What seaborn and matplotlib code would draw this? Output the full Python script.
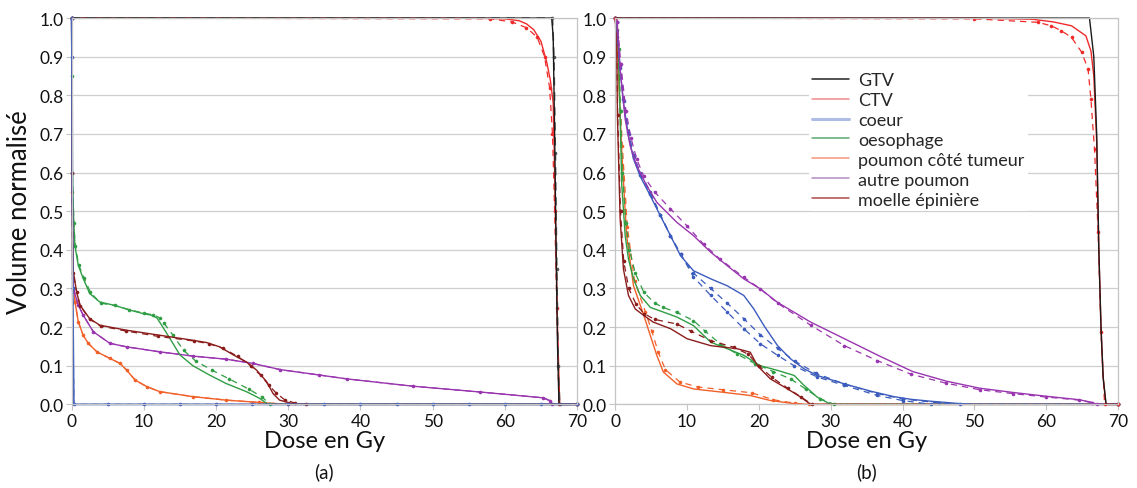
import matplotlib
matplotlib.use("Agg")
import matplotlib.pyplot as plt
from matplotlib.lines import Line2D
import seaborn as sns

# ---- (a) courbes HDV ----
a_gtv_dose = [0, 66.5, 66.7, 66.9, 67.1, 67.3, 67.5, 70]
a_gtv_vol = [1.0, 1.0, 0.95, 0.7, 0.4, 0.15, 0.0, 0.0]
a_gtv2_dose = [0, 66.6, 66.8, 67.0, 67.2, 67.4, 67.6, 70]
a_gtv2_vol = [1.0, 1.0, 0.9, 0.65, 0.35, 0.1, 0.0, 0.0]

a_ctv_dose = [0, 55, 60, 62, 63, 64, 65, 65.8, 66.3, 66.7, 66.9, 67.1, 67.3, 67.6, 70]
a_ctv_vol = [1.0, 1.0, 0.998, 0.993, 0.985, 0.97, 0.94, 0.886, 0.84, 0.78, 0.6, 0.4, 0.2, 0.0, 0.0]
a_ctv2_dose = [0, 58, 61, 63, 64.5, 65.5, 66.2, 66.6, 66.9, 67.2, 67.5, 70]
a_ctv2_vol = [1.0, 0.998, 0.99, 0.975, 0.95, 0.9, 0.82, 0.7, 0.5, 0.25, 0.0, 0.0]

a_coeur_dose = [0, 0.05, 0.15, 0.3, 5, 10, 15, 20, 25, 30, 35, 40, 45, 50, 55, 60, 65, 70]
a_coeur_vol = [1.0, 0.9, 0.3, 0.0, 0, 0, 0, 0, 0, 0, 0, 0, 0, 0, 0, 0, 0, 0]

a_oeso_dose = [0, 0.05, 0.1, 0.3, 0.46, 0.92, 1.6, 2.5, 3.9, 5.8, 8.1, 9.9, 11.0, 11.8, 12.4,
               13.6, 15, 16.8, 19.1, 21.4, 24.2, 26, 27.2, 70]
a_oeso_vol = [1.0, 0.85, 0.6, 0.47, 0.41, 0.36, 0.326, 0.287, 0.265, 0.257, 0.244, 0.235,
              0.231, 0.224, 0.207, 0.171, 0.128, 0.10, 0.076, 0.054, 0.033, 0.016, 0.0, 0.0]
a_oeso2_dose = [0, 0.05, 0.1, 0.3, 0.5, 1.0, 1.7, 2.6, 4.0, 6.0, 8.0, 10.0, 11.3, 12.2, 12.8,
                14.0, 15.5, 17.2, 19.5, 21.8, 24.5, 26.3, 27.5, 70]
a_oeso2_vol = [1.0, 0.85, 0.6, 0.47, 0.41, 0.36, 0.328, 0.29, 0.262, 0.256, 0.245, 0.236,
               0.232, 0.224, 0.21, 0.18, 0.14, 0.112, 0.088, 0.066, 0.04, 0.02, 0.0, 0.0]

a_moelle_dose = [0, 0.05, 0.23, 0.69, 1.15, 2.5, 3.9, 7.6, 12.2, 16.8, 18.7, 20.5, 22.4,
                 24.2, 25.6, 27.0, 27.9, 28.8, 30.6, 32, 70]
a_moelle_vol = [1.0, 0.6, 0.343, 0.291, 0.257, 0.222, 0.205, 0.192, 0.179, 0.166, 0.16,
                0.149, 0.128, 0.11, 0.089, 0.059, 0.028, 0.011, 0.002, 0.0, 0.0]
a_moelle2_dose = [0, 0.05, 0.25, 0.7, 1.2, 2.5, 4, 7.5, 12, 17, 19, 21, 23, 24.8, 26.2,
                  27.3, 28.3, 29.5, 31, 32.5, 70]
a_moelle2_vol = [1.0, 0.6, 0.34, 0.29, 0.255, 0.22, 0.203, 0.19, 0.176, 0.164, 0.157, 0.145,
                 0.124, 0.1, 0.075, 0.05, 0.03, 0.012, 0.003, 0.0, 0.0]

a_autre_dose = [0, 0.05, 0.23, 0.92, 1.6, 3.0, 5.3, 7.6, 12.2, 16.8, 21.4, 25.1, 28.9, 34.3,
                38.1, 47.3, 56.6, 65.3, 66.2, 66.6, 70]
a_autre_vol = [1.0, 0.6, 0.30, 0.257, 0.231, 0.188, 0.158, 0.149, 0.136, 0.125, 0.117, 0.106,
               0.09, 0.076, 0.066, 0.047, 0.032, 0.017, 0.01, 0.0, 0.0]

a_poumon_dose = [0, 0.05, 0.14, 0.46, 0.92, 1.6, 2.3, 3.5, 5.3, 6.7, 7.6, 8.8, 10.4, 12.2,
                 16.8, 21.4, 26, 30, 70]
a_poumon_vol = [1.0, 0.55, 0.326, 0.266, 0.214, 0.179, 0.158, 0.136, 0.119, 0.106, 0.089,
                0.063, 0.046, 0.033, 0.02, 0.011, 0.005, 0.0, 0.0]

# ---- (b) ----
b_gtv_dose = [0, 66.0, 66.6, 67.0, 67.3, 67.6, 67.9, 68.3, 70]
b_gtv_vol = [1.0, 1.0, 0.9, 0.7, 0.4, 0.2, 0.07, 0.0, 0.0]

b_ctv_dose = [0, 50, 58, 61, 63.5, 65.5, 66.2, 66.6, 67.0, 67.3, 67.6, 67.9, 68.3, 70]
b_ctv_vol = [1.0, 1.0, 0.997, 0.99, 0.98, 0.954, 0.915, 0.85, 0.68, 0.4, 0.2, 0.07, 0.0, 0.0]
b_ctv2_dose = [0, 50, 58.8, 60.7, 62.1, 63.5, 64.9, 65.8, 66.2, 66.7, 67.2, 67.6, 68.1, 70]
b_ctv2_vol = [1.0, 0.998, 0.989, 0.98, 0.967, 0.95, 0.912, 0.868, 0.79, 0.66, 0.446, 0.187, 0.0, 0.0]

b_coeur_dose = [0, 0.23, 0.7, 1.16, 1.86, 2.56, 3.5, 4.9, 6.3, 7.7, 9.1, 10.9, 13.3, 15.6,
                17.9, 19.3, 20.7, 22.6, 24.4, 26.3, 28.1, 31.9, 35.6, 38.8, 41.2, 44, 48, 50, 70]
b_coeur_vol = [1.0, 0.99, 0.867, 0.78, 0.695, 0.635, 0.59, 0.54, 0.488, 0.437, 0.385, 0.346,
               0.325, 0.307, 0.282, 0.247, 0.204, 0.152, 0.118, 0.092, 0.075, 0.053, 0.034,
               0.02, 0.013, 0.008, 0.002, 0.0, 0.0]
b_coeur2_dose = [0, 0.23, 0.7, 1.16, 1.86, 2.56, 3.5, 4.9, 6.3, 7.7, 9.1, 10.9, 13.3, 15.6,
                 17.9, 20.2, 22.6, 24.9, 28.1, 31.9, 36.5, 40, 44, 70]
b_coeur2_vol = [1.0, 0.99, 0.875, 0.79, 0.705, 0.645, 0.6, 0.55, 0.49, 0.437, 0.39, 0.33,
                0.282, 0.239, 0.196, 0.157, 0.127, 0.10, 0.071, 0.049, 0.023, 0.01, 0.0, 0.0]
b_coeur3_dose = [0, 0.23, 0.7, 1.2, 1.9, 2.6, 3.5, 4.9, 6.3, 7.7, 9.1, 10.9, 13.3, 15.6,
                 17.9, 20.2, 22.6, 25, 28, 32, 36.5, 40, 45, 48, 70]
b_coeur3_vol = [1.0, 0.99, 0.87, 0.785, 0.7, 0.64, 0.595, 0.545, 0.49, 0.437, 0.388, 0.34,
                0.30, 0.262, 0.222, 0.18, 0.145, 0.112, 0.08, 0.052, 0.028, 0.014, 0.004, 0.0, 0.0]

b_autre_dose = [0, 0.23, 0.7, 1.4, 2.1, 3.0, 4.4, 5.8, 8.6, 10.9, 13.3, 15.6, 17.9, 20.2,
                22.6, 27.2, 31.9, 36.8, 41.4, 46.1, 50.7, 55.3, 60, 64.6, 66.4, 67, 70]
b_autre_vol = [1.0, 1.0, 0.867, 0.738, 0.669, 0.618, 0.566, 0.523, 0.471, 0.437, 0.394,
               0.359, 0.325, 0.299, 0.264, 0.213, 0.17, 0.125, 0.085, 0.06, 0.042, 0.031,
               0.021, 0.012, 0.005, 0.0, 0.0]
b_autre2_dose = [0, 0.3, 0.8, 1.5, 2.2, 3.0, 4.0, 5.5, 7.7, 10, 12.3, 14.6, 17.9, 20.2, 22.6,
                 27.2, 31.9, 36.5, 41.2, 46, 50.7, 55.3, 60, 64.6, 66.4, 67, 70]
b_autre2_vol = [1.0, 0.99, 0.88, 0.76, 0.69, 0.635, 0.59, 0.55, 0.506, 0.462, 0.415, 0.376,
                0.329, 0.299, 0.262, 0.205, 0.152, 0.113, 0.078, 0.055, 0.038, 0.028, 0.019,
                0.011, 0.004, 0.0, 0.0]

b_oeso_dose = [0, 0.3, 0.47, 0.7, 0.93, 1.4, 1.86, 2.56, 3.5, 4.9, 6.7, 8.6, 10.9, 13.3,
               15.6, 17.9, 20.2, 22.6, 24.9, 26.3, 28.1, 30, 70]
b_oeso_vol = [1.0, 0.97, 0.91, 0.74, 0.566, 0.437, 0.376, 0.325, 0.282, 0.251, 0.239, 0.226,
              0.204, 0.161, 0.144, 0.127, 0.10, 0.088, 0.075, 0.049, 0.019, 0.0, 0.0]
b_oeso2_dose = [0, 0.3, 0.5, 0.75, 1.0, 1.5, 2.0, 2.8, 4.0, 5.5, 6.7, 8.6, 10.9, 12.5, 14.6,
                17, 19.5, 22, 24.5, 26.5, 28.5, 30.5, 70]
b_oeso2_vol = [1.0, 0.97, 0.92, 0.76, 0.6, 0.47, 0.4, 0.34, 0.29, 0.262, 0.251, 0.238, 0.217,
               0.19, 0.157, 0.13, 0.105, 0.085, 0.065, 0.04, 0.015, 0.0, 0.0]

b_moelle_dose = [0, 0.2, 0.33, 0.7, 1.16, 1.86, 2.8, 4.0, 5.3, 7.7, 10, 13.3, 17, 18.8, 19.8,
                 21.6, 24, 25.8, 27.2, 70]
b_moelle_vol = [1.0, 0.95, 0.74, 0.48, 0.35, 0.282, 0.247, 0.23, 0.213, 0.196, 0.17, 0.152,
                0.144, 0.135, 0.10, 0.066, 0.04, 0.019, 0.0, 0.0]
b_moelle2_dose = [0, 0.2, 0.35, 0.75, 1.2, 1.9, 2.9, 4.0, 5.5, 8.6, 10.5, 13.3, 16.5, 18.5,
                  20, 21.8, 24, 25.8, 27.4, 70]
b_moelle2_vol = [1.0, 0.95, 0.75, 0.5, 0.37, 0.3, 0.26, 0.235, 0.22, 0.208, 0.19, 0.165,
                 0.148, 0.13, 0.1, 0.07, 0.042, 0.02, 0.0, 0.0]

b_poumon_dose = [0, 0.15, 0.33, 0.93, 1.6, 2.56, 4.0, 4.9, 5.8, 6.7, 8.6, 10.9, 14.7, 18.8,
                 21.6, 24.9, 27, 70]
b_poumon_vol = [1.0, 0.98, 0.91, 0.652, 0.437, 0.307, 0.23, 0.178, 0.127, 0.084, 0.053,
                0.04, 0.032, 0.023, 0.01, 0.002, 0.0, 0.0]
b_poumon2_dose = [0, 0.15, 0.35, 1.0, 1.7, 2.7, 4.2, 5.1, 6.0, 7.0, 9.0, 11.5, 15, 19, 22,
                  25, 27, 70]
b_poumon2_vol = [1.0, 0.98, 0.92, 0.67, 0.46, 0.32, 0.24, 0.19, 0.135, 0.09, 0.058, 0.045,
                 0.038, 0.03, 0.012, 0.003, 0.0, 0.0]

noms = ['GTV', 'CTV', 'coeur', 'oesophage', 'poumon côté tumeur', 'autre poumon', 'moelle épinière']
couleurs = ['#1a1a1a', '#f02a2a', '#3b5bbd', '#2f9e44', '#f2602a', '#9a35b0', '#8b1c1c']
couleurs_leg = ['#222222', '#f08a8a', '#aebde6', '#5aa870', '#f4967a', '#b48ac4', '#b04a4a']

sns.set_theme(style='white')
plt.rcParams['font.family'] = ['Lato', 'DejaVu Sans']

fig = plt.figure(figsize=(11.37, 4.89), dpi=100)
ax_a = fig.add_axes([0.063, 0.171, 0.4445, 0.790])
ax_b = fig.add_axes([0.541, 0.171, 0.4425, 0.790])


def plein(ax, d, v, c, lw=1.0):
    sns.lineplot(x=d, y=v, ax=ax, color=c, linewidth=lw, sort=False, estimator=None, clip_on=False)


def pointille(ax, d, v, c, lw=0.9):
    # trait tirete avec petits points (style Excel)
    sns.lineplot(x=d, y=v, ax=ax, color=c, linewidth=lw, sort=False, estimator=None,
                 linestyle=(0, (5, 4)), marker='o', markersize=2.6, markeredgewidth=0,
                 clip_on=False)


# (a)
plein(ax_a, a_poumon_dose, a_poumon_vol, couleurs[4])
pointille(ax_a, a_poumon_dose, a_poumon_vol, couleurs[4])
plein(ax_a, a_autre_dose, a_autre_vol, couleurs[5])
pointille(ax_a, a_autre_dose, a_autre_vol, couleurs[5])
plein(ax_a, a_oeso_dose, a_oeso_vol, couleurs[3])
pointille(ax_a, a_oeso2_dose, a_oeso2_vol, couleurs[3])
plein(ax_a, a_moelle_dose, a_moelle_vol, couleurs[6])
pointille(ax_a, a_moelle2_dose, a_moelle2_vol, couleurs[6])
plein(ax_a, a_ctv_dose, a_ctv_vol, couleurs[1])
pointille(ax_a, a_ctv2_dose, a_ctv2_vol, couleurs[1])
pointille(ax_a, a_gtv2_dose, a_gtv2_vol, '#555555', lw=1.2)
plein(ax_a, a_gtv_dose, a_gtv_vol, couleurs[0])
plein(ax_a, a_coeur_dose, a_coeur_vol, couleurs[2], lw=1.3)
pointille(ax_a, a_coeur_dose, a_coeur_vol, couleurs[2])

# (b)
plein(ax_b, b_poumon_dose, b_poumon_vol, couleurs[4])
pointille(ax_b, b_poumon2_dose, b_poumon2_vol, couleurs[4])
plein(ax_b, b_oeso_dose, b_oeso_vol, couleurs[3])
pointille(ax_b, b_oeso2_dose, b_oeso2_vol, couleurs[3])
plein(ax_b, b_moelle_dose, b_moelle_vol, couleurs[6])
pointille(ax_b, b_moelle2_dose, b_moelle2_vol, couleurs[6])
plein(ax_b, b_coeur_dose, b_coeur_vol, couleurs[2])
pointille(ax_b, b_coeur3_dose, b_coeur3_vol, couleurs[2])
pointille(ax_b, b_coeur2_dose, b_coeur2_vol, couleurs[2])
plein(ax_b, b_autre_dose, b_autre_vol, couleurs[5])
pointille(ax_b, b_autre2_dose, b_autre2_vol, couleurs[5])
plein(ax_b, b_ctv_dose, b_ctv_vol, couleurs[1])
pointille(ax_b, b_ctv2_dose, b_ctv2_vol, couleurs[1])
plein(ax_b, b_gtv_dose, b_gtv_vol, couleurs[0])

for ax in (ax_a, ax_b):
    ax.set_xlim(0, 70)
    ax.set_ylim(0, 1)
    ax.set_xticks(range(0, 71, 10))
    ax.set_yticks([i / 10 for i in range(11)])
    ax.set_yticklabels(['%.1f' % (i / 10) for i in range(11)])
    ax.yaxis.grid(True, color='#cfcfcf', linewidth=0.9)
    ax.xaxis.grid(False)
    ax.set_axisbelow(True)
    for s in ax.spines.values():
        s.set_color('#c4c4c4')
        s.set_linewidth(0.9)
    ax.tick_params(axis='both', direction='out', length=4, width=0.8, color='#c4c4c4',
                   labelsize=12.5, labelcolor='#111111', pad=2, bottom=True, left=True)
    ax.set_xlabel('Dose en Gy', fontsize=17, color='#111111', labelpad=1)
    ax.set_ylabel('')

ax_a.set_ylabel('Volume normalisé', fontsize=18.5, color='#111111', labelpad=5)

poignees = []
for i in range(len(noms)):
    poignees.append(Line2D([0], [0], color=couleurs_leg[i], linewidth=2.2 if i == 2 else 1.1))
leg = ax_b.legend(poignees, noms, loc='upper left', bbox_to_anchor=(0.385, 0.87),
                  frameon=True, facecolor='white', edgecolor='none', framealpha=1,
                  fontsize=13, handlelength=2.0, handletextpad=0.55, labelspacing=0.22,
                  borderpad=0.2, borderaxespad=0)

fig.text(0.285, 0.022, '(a)', fontsize=13.5, ha='center', color='#111111')
fig.text(0.762, 0.022, '(b)', fontsize=13.5, ha='center', color='#111111')

fig.savefig('out.png', dpi=100, facecolor='white')
